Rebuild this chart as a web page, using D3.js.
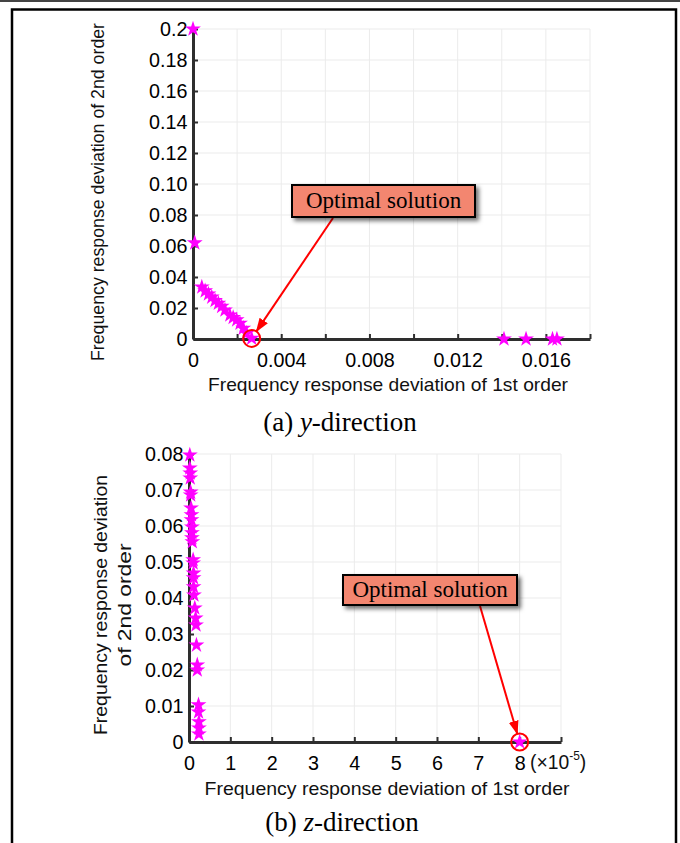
<!DOCTYPE html>
<html>
<head>
<meta charset="utf-8">
<script src="https://cdn.jsdelivr.net/npm/d3@7"></script>
<style>
  html, body { margin: 0; padding: 0; background: #fff; }
  svg { display: block; }
</style>
</head>
<body>
<svg id="fig" width="680" height="843"></svg>
<script>
// ---- (a) y-direction: Pareto front of the two frequency-response deviations ----
const yDirFirst  = [0, 0.00008, 0.00040, 0.00055, 0.00070, 0.00085, 0.00100, 0.00115, 0.00130,
                    0.00145, 0.00167, 0.00182, 0.00198, 0.00213, 0.00228, 0.00243, 0.00266,
                    0.0141, 0.0151, 0.0163, 0.0165];
const yDirSecond = [0.2, 0.062, 0.0335, 0.031, 0.029, 0.027, 0.0248, 0.023, 0.021,
                    0.0187, 0.0155, 0.0138, 0.0123, 0.0101, 0.0069, 0.0037, 0.0004,
                    0, 0, 0, 0];
const yDirBest = 16;
const yDirXTicks  = [0, 0.002, 0.004, 0.006, 0.008, 0.010, 0.012, 0.014, 0.016, 0.018];
const yDirXLabels = ["0", "", "0.004", "", "0.008", "", "0.012", "", "0.016", ""];
const yDirYTicks  = [0, 0.02, 0.04, 0.06, 0.08, 0.10, 0.12, 0.14, 0.16, 0.18, 0.2];
const yDirYLabels = ["0", "0.02", "0.04", "0.06", "0.08", "0.10", "0.12", "0.14", "0.16", "0.18", "0.2"];

// ---- (b) z-direction (first-order deviation in units of 1e-5) ----
const zDirFirst  = [0.02, 0.02, 0.03, 0.03, 0.04, 0.04, 0.05, 0.06, 0.06, 0.07, 0.07, 0.07, 0.08,
                    0.10, 0.10, 0.11, 0.11, 0.11, 0.12, 0.14, 0.16, 0.17, 0.18, 0.20, 0.20,
                    0.23, 0.23, 0.24, 0.24, 0.24, 8.0];
const zDirSecond = [0.0797, 0.0761, 0.0747, 0.0733, 0.0694, 0.0686, 0.0650, 0.0631, 0.0617, 0.0597,
                    0.0581, 0.0567, 0.0556, 0.0506, 0.0497, 0.0469, 0.0456, 0.0431, 0.0408,
                    0.0372, 0.0344, 0.0325, 0.0269, 0.0214, 0.0200,
                    0.0103, 0.0083, 0.0056, 0.0039, 0.0022, 0];
const zDirBest = 30;
const zDirXTicks  = [0, 1, 2, 3, 4, 5, 6, 7, 8, 9];
const zDirXLabels = ["0", "1", "2", "3", "4", "5", "6", "7", "8", ""];
const zDirYTicks  = [0, 0.01, 0.02, 0.03, 0.04, 0.05, 0.06, 0.07, 0.08];
const zDirYLabels = ["0", "0.01", "0.02", "0.03", "0.04", "0.05", "0.06", "0.07", "0.08"];

const SANS = "'Liberation Sans', Arial, Helvetica, sans-serif";
const SERIF = "'Liberation Serif', 'Times New Roman', Times, serif";
const AXIS_COLOR = "#2e2e2e";

const svg = d3.select("#fig");
const defs = svg.append("defs");
defs.append("filter").attr("id", "boxShadow")
    .attr("x", "-10%").attr("y", "-30%").attr("width", "130%").attr("height", "180%")
  .append("feDropShadow")
    .attr("dx", 3).attr("dy", 3).attr("stdDeviation", 2)
    .attr("flood-color", "#000").attr("flood-opacity", 0.55);
defs.append("marker").attr("id", "arrowHead")
    .attr("viewBox", "0 0 14 10").attr("refX", 13).attr("refY", 5)
    .attr("markerWidth", 14).attr("markerHeight", 10)
    .attr("markerUnits", "userSpaceOnUse").attr("orient", "auto")
  .append("path").attr("d", "M0,0 L14,5 L0,10 Z").attr("fill", "#ff0000");

// page rule and figure frame
svg.append("line").attr("x1", 0).attr("x2", 680).attr("y1", 1).attr("y2", 1)
   .attr("stroke", "#444").attr("stroke-width", 2);
svg.append("rect").attr("x", 12).attr("y", 9.5).attr("width", 664).attr("height", 850)
   .attr("fill", "none").attr("stroke", "#000").attr("stroke-width", 2.5);

function drawPanel(p) {
  const x = d3.scaleLinear().domain(p.xDomain).range([p.left, p.right]);
  const y = d3.scaleLinear().domain(p.yDomain).range([p.bottom, p.top]);
  const g = svg.append("g");

  // light grid
  g.append("g").selectAll("line").data(p.xTicks.slice(1)).join("line")
    .attr("x1", d => x(d)).attr("x2", d => x(d))
    .attr("y1", y(p.yDomain[0])).attr("y2", y(p.yDomain[1]))
    .attr("stroke", "#ebebeb").attr("stroke-width", 1);
  g.append("g").selectAll("line").data(p.yTicks.slice(1)).join("line")
    .attr("y1", d => y(d)).attr("y2", d => y(d))
    .attr("x1", x(p.xDomain[0])).attr("x2", x(p.xDomain[1]))
    .attr("stroke", "#ebebeb").attr("stroke-width", 1);

  // axes with inward ticks
  const ax = g.append("g").attr("transform", `translate(0,${p.bottom})`)
    .call(d3.axisBottom(x).tickValues(p.xTicks).tickFormat((d, i) => p.xLabels[i])
      .tickSizeInner(-5).tickSizeOuter(0).tickPadding(13));
  const ay = g.append("g").attr("transform", `translate(${p.left},0)`)
    .call(d3.axisLeft(y).tickValues(p.yTicks).tickFormat((d, i) => p.yLabels[i])
      .tickSizeInner(-5).tickSizeOuter(0).tickPadding(6));
  [ax, ay].forEach(a => {
    a.select(".domain").attr("stroke", AXIS_COLOR).attr("stroke-width", 3);
    a.selectAll(".tick line").attr("stroke", AXIS_COLOR).attr("stroke-width", 2);
    a.selectAll(".tick text").attr("fill", "#000").attr("font-size", 21)
      .attr("font-family", SANS).attr("transform", "scale(0.94,1)");
  });

  // Pareto points
  const star = d3.symbol(d3.symbolStar, 78);
  g.append("g").selectAll("path").data(d3.range(p.xs.length)).join("path")
    .attr("transform", i => `translate(${x(p.xs[i])},${y(p.ys[i])})`)
    .attr("d", star).attr("fill", "#ff00ff");

  // chosen solution: ring, callout box and arrow
  const cx = x(p.xs[p.best]), cy = y(p.ys[p.best]), r = 8.5;
  g.append("circle").attr("cx", cx).attr("cy", cy).attr("r", r)
    .attr("fill", "none").attr("stroke", "#ff0000").attr("stroke-width", 2);

  const b = p.box;
  const dx = cx - b.ax, dy = cy - b.ay, len = Math.hypot(dx, dy);
  g.append("line").attr("x1", b.ax).attr("y1", b.ay)
    .attr("x2", cx - dx / len * r).attr("y2", cy - dy / len * r)
    .attr("stroke", "#ff0000").attr("stroke-width", 2).attr("marker-end", "url(#arrowHead)");
  g.append("rect").attr("x", b.x).attr("y", b.y).attr("width", b.w).attr("height", b.h)
    .attr("fill", "#f3866f").attr("stroke", "#000").attr("stroke-width", 2)
    .attr("filter", "url(#boxShadow)");
  g.append("text").attr("x", b.x + b.w / 2).attr("y", b.y + b.h / 2 + 7)
    .attr("text-anchor", "middle").attr("font-family", SERIF).attr("font-size", 23)
    .attr("fill", "#000").text("Optimal solution");

  return { x, y };
}

function sansLabel(tx, ty, str, size, len, rotate) {
  return svg.append("text")
    .attr("transform", `translate(${tx},${ty})` + (rotate ? " rotate(-90)" : ""))
    .attr("text-anchor", "middle").attr("font-family", SANS).attr("font-size", size)
    .attr("fill", "#111").attr("textLength", len).attr("lengthAdjust", "spacingAndGlyphs")
    .text(str);
}

function caption(cx, baseline, tag, axisLetter) {
  const t = svg.append("text").attr("x", cx).attr("y", baseline).attr("text-anchor", "middle")
    .attr("font-family", SERIF).attr("font-size", 27).attr("fill", "#000");
  t.append("tspan").text(tag + " ");
  t.append("tspan").attr("font-style", "italic").text(axisLetter);
  t.append("tspan").text("-direction");
}

// (a)
drawPanel({
  xs: yDirFirst, ys: yDirSecond, best: yDirBest,
  xDomain: [0, 0.018], yDomain: [0, 0.2],
  xTicks: yDirXTicks, xLabels: yDirXLabels, yTicks: yDirYTicks, yLabels: yDirYLabels,
  left: 193, right: 590, top: 29, bottom: 339,
  box: { x: 292, y: 185, w: 183, h: 32, ax: 333, ay: 218 }
});
sansLabel(388, 391, "Frequency response deviation of 1st order", 19, 360, false);
sansLabel(104, 192, "Frequency response deviation of 2nd order", 18.5, 338, true);
caption(340, 431, "(a)", "y");

// (b)
drawPanel({
  xs: zDirFirst, ys: zDirSecond, best: zDirBest,
  xDomain: [0, 9], yDomain: [0, 0.08],
  xTicks: zDirXTicks, xLabels: zDirXLabels, yTicks: zDirYTicks, yLabels: zDirYLabels,
  left: 189, right: 561, top: 454, bottom: 742,
  box: { x: 343, y: 575, w: 174, h: 30, ax: 480, ay: 606 }
});
sansLabel(387, 795, "Frequency response deviation of 1st order", 19, 365, false);
sansLabel(107, 605, "Frequency response deviation", 19, 260, true);
sansLabel(131, 605, "of 2nd order", 19, 123, true);
caption(342, 831, "(b)", "z");

// scale factor note on the z-direction x-axis
const sf = svg.append("text").attr("transform", "translate(530,769) scale(0.92,1)")
  .attr("font-family", SANS).attr("font-size", 21).attr("fill", "#111");
sf.append("tspan").text("(\u00d710");
sf.append("tspan").attr("font-size", 13).attr("dy", -9).text("-5");
sf.append("tspan").attr("dy", 9).text(")");
</script>
</body>
</html>
